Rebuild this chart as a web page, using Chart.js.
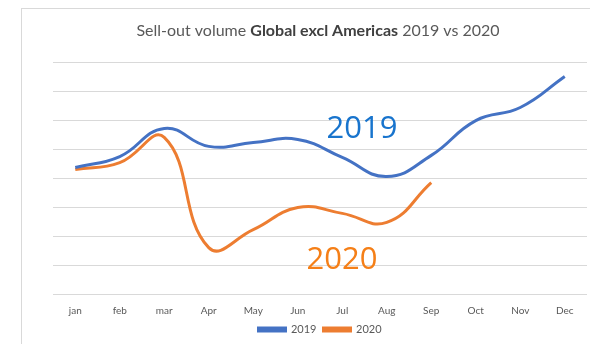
<!DOCTYPE html>
<html>
<head>
<meta charset="utf-8">
<script src="https://cdn.jsdelivr.net/npm/chart.js@4/dist/chart.umd.min.js"></script>
<style>
  html, body { margin: 0; padding: 0; background: #fff; overflow: hidden; }
  #frame {
    position: absolute; left: 21px; top: 8px; width: 600px; height: 360px;
    border-left: 1px solid #d9d9d9; border-top: 1px solid #d9d9d9;
  }
  #wrap { position: absolute; left: 0; top: 0; width: 590px; height: 344px; }
</style>
</head>
<body>
<div id="frame"></div>
<div id="wrap"><canvas id="chart" width="590" height="344"></canvas></div>
<script>
// ── Data (arbitrary units, one gridline = 1) ──
const months = ['jan', 'feb', 'mar', 'Apr', 'May', 'Jun', 'Jul', 'Aug', 'Sep', 'Oct', 'Nov', 'Dec'];
const volume2019 = [4.36, 4.74, 5.71, 5.09, 5.22, 5.33, 4.71, 4.05, 4.78, 5.98, 6.43, 7.5];
const volume2020 = [4.29, 4.53, 5.40, 1.60, 2.22, 2.98, 2.78, 2.47, 3.84];
const yTicks = [0, 1, 2, 3, 4, 5, 6, 7, 8];

const titleParts = [
    { text: 'Sell-out volume ', bold: false },
    { text: 'Global excl Americas', bold: true },
    { text: ' 2019 vs 2020', bold: false }
];

// ── Title with mixed weights + big series labels ──
const decorPlugin = {
    id: 'decor',
    afterDraw(chart) {
        const ctx = chart.ctx;
        ctx.save();
        ctx.textBaseline = 'middle';
        const size = 16;
        const fontOf = p => `${p.bold ? 'bold ' : ''}${size}px Lato, sans-serif`;
        let total = 0;
        titleParts.forEach(p => { ctx.font = fontOf(p); total += ctx.measureText(p.text).width; });
        let x = 318 - total / 2;
        titleParts.forEach(p => {
            ctx.font = fontOf(p);
            ctx.fillStyle = p.bold ? '#404040' : '#595959';
            ctx.fillText(p.text, x, 31);
            x += ctx.measureText(p.text).width;
        });

        ctx.textAlign = 'center';
        ctx.font = '31px "Open Sans", sans-serif';
        ctx.fillStyle = '#1874cd';
        ctx.fillText('2019', 362, 129);
        ctx.fillStyle = '#f57f17';
        ctx.fillText('2020', 342, 260);
        ctx.restore();
    }
};

new Chart(document.getElementById('chart'), {
    type: 'line',
    data: {
        labels: months,
        datasets: [
            {
                label: '2019',
                data: volume2019,
                borderColor: '#4472c4',
                backgroundColor: '#4472c4',
                borderWidth: 3,
                pointRadius: 0,
                tension: 0.45
            },
            {
                label: '2020',
                data: volume2020,
                borderColor: '#ed7d31',
                backgroundColor: '#ed7d31',
                borderWidth: 3,
                pointRadius: 0,
                tension: 0.45
            }
        ]
    },
    options: {
        responsive: false,
        animation: false,
        layout: { padding: { top: 62, left: 53, right: 3, bottom: 0 } },
        plugins: {
            legend: {
                position: 'bottom',
                maxHeight: 27,
                labels: {
                    boxWidth: 27,
                    boxHeight: 3,
                    padding: 7,
                    color: '#595959',
                    font: { size: 11, family: 'Lato, sans-serif', lineHeight: 1 }
                }
            },
            tooltip: { enabled: false }
        },
        scales: {
            x: {
                offset: true,
                grid: { display: false, drawTicks: false },
                border: { display: false },
                ticks: {
                    color: '#595959',
                    padding: 11,
                    font: { size: 10, family: 'Lato, sans-serif' }
                },
                // fixed axis band so the plot bottom lands where the reference has it
                afterFit: scale => { scale.height = 23; }
            },
            y: {
                min: yTicks[0],
                max: yTicks[yTicks.length - 1],
                afterBuildTicks: axis => { axis.ticks = yTicks.map(v => ({ value: v })); },
                ticks: { display: false },
                border: { display: false },
                grid: { color: '#d9d9d9', lineWidth: 1, drawTicks: false }
            }
        }
    },
    plugins: [decorPlugin]
});
</script>
</body>
</html>
